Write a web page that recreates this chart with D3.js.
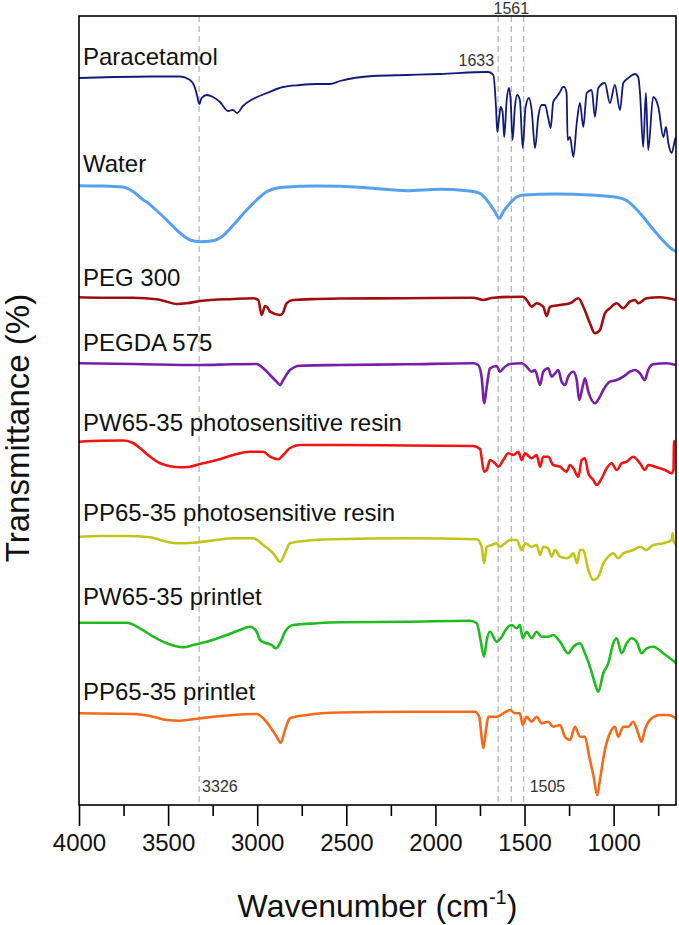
<!DOCTYPE html>
<html>
<head>
<meta charset="utf-8">
<script src="https://cdn.jsdelivr.net/npm/d3@7"></script>
<style>
  html, body { margin: 0; padding: 0; background: #fff; }
  svg { display: block; }
  text { font-family: "Liberation Sans", Arial, sans-serif; }
</style>
</head>
<body>
<svg id="chart" width="679" height="925"></svg>
<script>
// ---- DATA (wavenumber cm-1, transmittance in arbitrary stacked units) ----
const seriesNames = ["Paracetamol", "Water", "PEG 300", "PEGDA 575",
  "PW65-35 photosensitive resin", "PP65-35 photosensitive resin",
  "PW65-35 printlet", "PP65-35 printlet"];

const paracetamol = [[4000,727],[3800,728],[3600,728.5],[3433,728.5],[3377,725],[3349,717],[3338,710],[3325,701],[3312,707],[3283,710],[3248,708],[3209,703],[3164,694],[3136,695],[3113,692],[3080,699],[3024,706],[2945,712],[2855,718],[2760,720],[2665,721],[2592,721],[2536,724],[2350,729],[2160,730],[1974,731],[1711,733],[1703,733],[1675,730],[1660,698],[1653,673],[1642,688],[1634,698],[1623,693],[1614,668],[1600,705],[1587,717],[1578,705],[1567,665],[1554,698],[1541,710],[1526,705],[1510,657],[1494,698],[1475,707],[1460,695],[1441,657],[1423,688],[1404,700],[1385,700],[1367,687],[1353,677],[1339,703],[1320,708],[1301,713],[1284,718],[1277,718],[1264,712],[1258,665],[1245,668],[1226,648],[1207,682],[1189,702],[1170,678],[1151,712],[1123,715],[1105,688],[1086,717],[1049,722],[1021,702],[993,720],[964,695],[946,722],[918,727],[880,731],[862,728],[852,712],[834,658],[819,712],[806,655],[778,708],[749,698],[721,668],[706,678],[693,662],[674,652],[656,665],[650,668]];

const water = [[4000,619.3],[3882,619],[3753,618],[3695,613.3],[3639,605],[3620,603],[3568,595],[3508,585],[3433,572],[3377,565],[3321,563.3],[3248,564.3],[3199,568.3],[3134,580],[3059,595],[3003,605],[2947,613.3],[2854,617.7],[2666,619],[2536,618.8],[2350,616.7],[2161,614.3],[1974,615.7],[1825,614.3],[1750,611.7],[1712,605],[1666,593.3],[1642,586.7],[1619,593.3],[1582,601.7],[1544,608],[1507,610],[1320,611],[1133,610],[983,607.7],[927,604.5],[852,591.7],[759,571.7],[665,555],[646,553.3]];

const peg300 = [[4000,507.7],[3882,507.3],[3697,507.3],[3564,505.7],[3508,503.3],[3452,501],[3396,501.7],[3321,504],[3134,506],[3022,506.7],[2994,505],[2975,490],[2956,499],[2943,497.7],[2928,493.3],[2872,490],[2857,491.7],[2835,501.7],[2798,505],[2666,506],[2536,506.5],[2161,506.7],[1788,507.3],[1732,505],[1675,507.3],[1507,508.3],[1488,505],[1460,498.3],[1432,501.7],[1395,498.3],[1376,489],[1357,498.3],[1301,500],[1245,501.7],[1198,506.7],[1170,498.3],[1133,481.7],[1105,471.7],[1077,475],[1049,491.7],[1021,496.7],[983,501.7],[946,496.7],[909,503.3],[880,505],[862,501.7],[815,506.7],[740,507.7],[650,505]];

const pegda575 = [[4000,441.7],[3697,441],[3321,440],[3134,440.7],[3003,441],[2966,436.7],[2928,430],[2891,423.3],[2872,420],[2854,425],[2816,435],[2760,439.3],[2536,440],[2161,440.7],[1788,441.7],[1760,440],[1741,428.3],[1726,401.7],[1712,418.3],[1694,436.7],[1656,439],[1638,433.3],[1619,436.7],[1582,441],[1516,441.7],[1488,438.3],[1460,433.3],[1441,435],[1413,420],[1395,433.3],[1367,436.7],[1348,428.3],[1329,431.7],[1310,435],[1292,423.3],[1273,420],[1255,428.3],[1226,433.3],[1207,425],[1193,405],[1174,418.3],[1161,426.7],[1142,413.3],[1105,401.7],[1077,408.3],[1058,415],[1021,423.3],[983,425],[946,428.3],[909,433.3],[880,435],[852,431.7],[825,425],[806,435],[778,440.7],[703,441.7],[650,440]];

const pwResin = [[4000,363.3],[3882,364.3],[3751,364.5],[3697,362],[3658,357],[3613,350],[3545,341.7],[3433,337.7],[3377,338.3],[3321,341],[3227,345],[3134,350],[3041,353.3],[2966,353.3],[2928,348.3],[2882,345.7],[2854,350],[2816,357],[2760,360],[2536,360],[2161,359.5],[1788,359],[1750,356],[1727,333.3],[1712,335],[1694,345],[1666,341.7],[1647,338.3],[1619,345],[1591,351.7],[1563,350],[1535,353.3],[1516,345],[1497,351.7],[1460,346.7],[1432,350],[1413,338.3],[1395,348.3],[1367,348.3],[1339,340],[1301,338.3],[1264,333.3],[1245,340],[1226,336.7],[1198,328.3],[1179,345],[1161,346.7],[1142,331.7],[1114,325],[1095,320],[1067,326.7],[1039,336.7],[1011,341.7],[983,335],[955,341.7],[927,343.3],[890,348.3],[852,341.7],[825,335],[806,340],[768,338.3],[712,335],[674,331.7],[664,335],[661,364],[656,361],[650,359]];

const ppResin = [[4000,268.3],[3882,269],[3732,269],[3602,267.7],[3508,263.3],[3452,261.7],[3359,262.3],[3227,265],[3134,266.7],[3022,266.7],[2966,260],[2910,251.7],[2872,243.3],[2844,251.7],[2816,261.7],[2722,264.3],[2575,265.7],[2161,266.7],[1768,265.7],[1741,258.3],[1727,241.7],[1712,258.3],[1684,260],[1656,261.7],[1638,258.3],[1610,261.7],[1582,265],[1544,265],[1516,255],[1497,261.7],[1460,258.3],[1432,260],[1413,250],[1395,258.3],[1367,256.7],[1348,248.3],[1329,255],[1301,248.3],[1264,246.7],[1245,248.3],[1226,251.7],[1204,241.7],[1189,255],[1170,255],[1142,235],[1114,225],[1086,228.3],[1058,241.7],[1030,248.3],[1002,251.7],[974,246.7],[946,251.7],[890,255],[852,258.3],[815,255],[778,260],[721,261.7],[674,265],[669,272],[665,265],[656,261.7],[650,262]];

const pwPrintlet = [[4000,182.3],[3732,182.3],[3658,176.7],[3583,168.3],[3508,161.7],[3415,157.7],[3359,160],[3283,163.3],[3171,170],[3097,175],[3041,178.3],[3003,173.3],[2984,165],[2956,162.3],[2919,160],[2895,156.7],[2872,161.7],[2844,173.3],[2798,180],[2666,181.7],[2536,182.7],[2161,183.3],[1806,184.3],[1768,181.7],[1750,168.3],[1727,148.3],[1712,165],[1694,173.3],[1656,163.3],[1628,168.3],[1600,176.7],[1572,180],[1544,176.7],[1526,180],[1510,166.7],[1488,173.3],[1460,166.7],[1432,173.3],[1404,168.3],[1367,168.3],[1339,170],[1301,163.3],[1255,151.7],[1226,158.3],[1189,161.7],[1161,151.7],[1133,138.3],[1105,121.7],[1086,113.3],[1058,131.7],[1030,141.7],[1002,161.7],[983,166.7],[955,151.7],[927,161.7],[899,166.7],[871,163.3],[843,151.7],[815,156.7],[778,158.3],[721,151.7],[650,142]];

const ppPrintlet = [[4000,91.7],[3697,91],[3583,88.3],[3508,85],[3433,84.3],[3321,86.7],[3134,90],[3003,91],[2966,86.7],[2928,78.3],[2891,68.3],[2868,62.3],[2844,75],[2816,86.7],[2722,90],[2536,92.5],[2161,93.3],[1778,93.3],[1754,88.3],[1741,68.3],[1731,56.7],[1716,75],[1703,88.3],[1656,88.3],[1619,91.7],[1582,95],[1554,91.7],[1526,91.7],[1510,80],[1488,88.3],[1460,83.3],[1432,88.3],[1404,81.7],[1367,83.3],[1339,78.3],[1301,80],[1273,68.3],[1245,65],[1217,78.3],[1189,68.3],[1161,68.3],[1137,48.3],[1114,30],[1092,10],[1077,25],[1049,55],[1021,71.7],[993,78.3],[974,68.3],[946,78.3],[918,78.3],[890,83.3],[862,71.7],[843,63.3],[825,75],[796,85],[740,90],[693,90],[650,86.7]];

const seriesData = [paracetamol, water, peg300, pegda575, pwResin, ppResin, pwPrintlet, ppPrintlet];
const seriesColors = ["#121a78", "#56a0f0", "#a00e10", "#7a1ea6", "#f01414", "#c3c31c", "#20bb20", "#f46a1a"];
const seriesWidths = [1.8, 3, 2.6, 2.6, 2.6, 2.6, 2.6, 2.6];
const labelLevels = [740, 633.3, 519, 454, 374, 284.3, 200, 105];   // label baseline heights (a.u.)

const markerWn = [3326, 1648, 1574, 1505];
const markerLabels = ["3326", "1633", "1561", "1505"];

const xMajorTicks = [4000, 3500, 3000, 2500, 2000, 1500, 1000];
const xMinorTicks = [3750, 3250, 2750, 2250, 1750, 1250, 750];

// ---- LAYOUT ----
const margin = { left: 79, right: 676, top: 16, bottom: 805 };
const svg = d3.select("#chart");
const x = d3.scaleLinear().domain([4000, 650]).range([margin.left, margin.right]);
const y = d3.scaleLinear().domain([0, 789]).range([margin.bottom, margin.top]);

svg.append("defs").append("clipPath").attr("id", "plotclip")
  .append("rect").attr("x", margin.left).attr("y", margin.top)
  .attr("width", margin.right - margin.left).attr("height", margin.bottom - margin.top);

// dashed marker lines
const g = svg.append("g");
g.selectAll("line.marker").data(markerWn).join("line")
  .attr("class", "marker")
  .attr("x1", d => x(d)).attr("x2", d => x(d))
  .attr("y1", margin.top).attr("y2", margin.bottom)
  .attr("stroke", "#b8b8b8").attr("stroke-width", 1.3)
  .attr("stroke-dasharray", "6,4");

// spectra
const line = d3.line().x(d => x(d[0])).y(d => y(d[1])).curve(d3.curveMonotoneX);
const lines = svg.append("g").attr("clip-path", "url(#plotclip)");
seriesData.forEach((s, i) => {
  lines.append("path").datum(s)
    .attr("d", line)
    .attr("fill", "none")
    .attr("stroke", seriesColors[i])
    .attr("stroke-width", seriesWidths[i])
    .attr("stroke-linejoin", "round");
});

// series labels
svg.append("g").selectAll("text").data(seriesNames).join("text")
  .attr("x", margin.left + 4)
  .attr("y", (d, i) => y(labelLevels[i]))
  .attr("font-size", 24)
  .attr("fill", "#111")
  .text(d => d);

// marker labels
const ml = svg.append("g").attr("font-size", 16).attr("fill", "#333");
ml.append("text").attr("x", x(markerWn[0]) + 3).attr("y", 792).text(markerLabels[0]);
ml.append("text").attr("x", x(markerWn[1]) - 4).attr("y", 66).attr("text-anchor", "end").text(markerLabels[1]);
ml.append("text").attr("x", x(markerWn[2])).attr("y", 14).attr("text-anchor", "middle").text(markerLabels[2]);
ml.append("text").attr("x", x(markerWn[3]) + 6).attr("y", 792).text(markerLabels[3]);

// frame
svg.append("rect")
  .attr("x", margin.left).attr("y", margin.top)
  .attr("width", margin.right - margin.left).attr("height", margin.bottom - margin.top)
  .attr("fill", "none").attr("stroke", "#000").attr("stroke-width", 1.6);

// x axis
const axis = svg.append("g").attr("transform", `translate(0,${margin.bottom})`);
axis.call(d3.axisBottom(x).tickValues(xMajorTicks).tickSize(21).tickPadding(7).tickFormat(d3.format("d")));
axis.select(".domain").remove();
axis.selectAll(".tick line").attr("stroke", "#000").attr("stroke-width", 1.6);
axis.selectAll(".tick text").attr("font-size", 24).attr("fill", "#111")
  .attr("font-family", "'Liberation Sans', Arial, sans-serif").attr("dy", "0.75em");
const minor = svg.append("g").attr("transform", `translate(0,${margin.bottom})`);
minor.call(d3.axisBottom(x).tickValues(xMinorTicks).tickSize(11).tickFormat(""));
minor.select(".domain").remove();
minor.selectAll(".tick line").attr("stroke", "#000").attr("stroke-width", 1.6);

// axis titles
const xt = svg.append("text")
  .attr("x", (margin.left + margin.right) / 2).attr("y", 917)
  .attr("text-anchor", "middle").attr("font-size", 32).attr("fill", "#111");
xt.append("tspan").text("Wavenumber (cm");
xt.append("tspan").attr("font-size", 20).attr("dy", -13).text("-1");
xt.append("tspan").attr("dy", 13).text(")");

svg.append("text")
  .attr("transform", "translate(29,428) rotate(-90)")
  .attr("text-anchor", "middle").attr("font-size", 33).attr("fill", "#111")
  .text("Transmittance (%)");
</script>
</body>
</html>
